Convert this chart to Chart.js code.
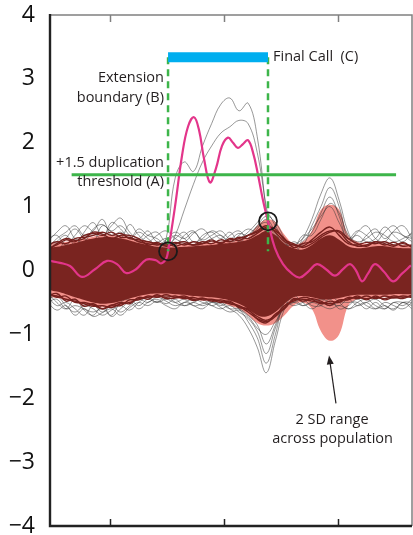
<!DOCTYPE html>
<html>
<head>
<meta charset="utf-8">
<script src="https://cdn.jsdelivr.net/npm/chart.js@4.4.0/dist/chart.umd.min.js"></script>
<style>
    html, body { margin: 0; padding: 0; background: #fff; }
    #wrap { width: 413px; height: 535px; }
</style>
</head>
<body>
<div id="wrap"><canvas id="cnv" width="413" height="535"></canvas></div>
<script>
//横轴采样位置（人群曲线共用）
var gridX = [45, 53, 61, 69, 77, 85, 93, 101, 109, 117, 125, 133, 141, 149, 157, 165, 173, 181, 189, 197,
    205, 213, 221, 229, 237, 245, 253, 261, 269, 277, 285, 293, 301, 309, 317, 325, 333, 341, 349, 357, 365];

//2 SD 范围上下界
var sdUpper = [0.42, 0.43, 0.45, 0.47, 0.5, 0.53, 0.55, 0.55, 0.54, 0.52, 0.49, 0.46, 0.43, 0.41, 0.41, 0.41, 0.42, 0.43, 0.44, 0.45,
    0.46, 0.49, 0.52, 0.7, 0.8, 0.76, 0.56, 0.42, 0.45, 0.62, 0.95, 1.03, 0.95, 0.55, 0.45, 0.42, 0.42, 0.41, 0.4, 0.4, 0.4];
var sdLower = [-0.42, -0.43, -0.46, -0.5, -0.53, -0.56, -0.58, -0.57, -0.55, -0.5, -0.46, -0.43, -0.42, -0.42, -0.43, -0.45, -0.46, -0.47, -0.48, -0.5,
    -0.55, -0.6, -0.7, -0.82, -0.86, -0.82, -0.7, -0.55, -0.5, -0.6, -0.95, -1.1, -1.0, -0.55, -0.45, -0.44, -0.43, -0.42, -0.42, -0.42, -0.42];

//人群曲线密集区
var coreUpper = [0.35, 0.37, 0.4, 0.43, 0.47, 0.5, 0.52, 0.52, 0.5, 0.47, 0.43, 0.4, 0.37, 0.36, 0.36, 0.37, 0.38, 0.39, 0.4, 0.42,
    0.43, 0.45, 0.48, 0.55, 0.62, 0.55, 0.42, 0.35, 0.33, 0.4, 0.5, 0.55, 0.48, 0.38, 0.35, 0.36, 0.38, 0.38, 0.36, 0.35, 0.35];
var coreLower = [-0.3, -0.33, -0.37, -0.42, -0.46, -0.5, -0.52, -0.51, -0.48, -0.44, -0.4, -0.37, -0.36, -0.36, -0.37, -0.38, -0.4, -0.41, -0.42, -0.44,
    -0.47, -0.52, -0.6, -0.7, -0.72, -0.65, -0.52, -0.42, -0.4, -0.42, -0.45, -0.45, -0.43, -0.4, -0.38, -0.38, -0.38, -0.38, -0.37, -0.37, -0.37];

//密集区边缘的曲线
var redTraces = [
    [0.4, 0.45, 0.42, 0.5, 0.52, 0.55, 0.6, 0.55, 0.58, 0.5, 0.48, 0.45, 0.42, 0.4, 0.44, 0.4, 0.45, 0.42, 0.46, 0.44,
        0.48, 0.5, 0.55, 0.62, 0.7, 0.6, 0.45, 0.4, 0.38, 0.48, 0.6, 0.68, 0.55, 0.42, 0.4, 0.44, 0.42, 0.45, 0.4, 0.42, 0.38],
    [0.35, 0.4, 0.48, 0.45, 0.55, 0.58, 0.55, 0.6, 0.52, 0.52, 0.45, 0.42, 0.4, 0.42, 0.38, 0.42, 0.4, 0.45, 0.42, 0.48,
        0.45, 0.52, 0.5, 0.58, 0.66, 0.62, 0.5, 0.36, 0.42, 0.45, 0.55, 0.62, 0.6, 0.45, 0.38, 0.4, 0.45, 0.4, 0.44, 0.38, 0.4],
    [0.3, 0.42, 0.5, 0.47, 0.5, 0.6, 0.57, 0.5, 0.55, 0.55, 0.5, 0.4, 0.44, 0.38, 0.42, 0.45, 0.4, 0.42, 0.48, 0.42,
        0.5, 0.47, 0.55, 0.6, 0.68, 0.65, 0.48, 0.42, 0.36, 0.42, 0.52, 0.6, 0.62, 0.5, 0.42, 0.38, 0.45, 0.42, 0.38, 0.44, 0.36],
    [-0.38, -0.4, -0.45, -0.48, -0.52, -0.56, -0.55, -0.58, -0.52, -0.5, -0.44, -0.42, -0.4, -0.42, -0.4, -0.44, -0.42, -0.46, -0.45, -0.48,
        -0.52, -0.56, -0.65, -0.75, -0.8, -0.72, -0.58, -0.46, -0.45, -0.48, -0.5, -0.52, -0.48, -0.44, -0.42, -0.44, -0.42, -0.44, -0.4, -0.42, -0.4],
    [-0.34, -0.42, -0.4, -0.5, -0.5, -0.54, -0.6, -0.54, -0.55, -0.46, -0.46, -0.4, -0.42, -0.38, -0.42, -0.4, -0.45, -0.43, -0.48, -0.46,
        -0.5, -0.55, -0.62, -0.72, -0.78, -0.7, -0.55, -0.48, -0.42, -0.45, -0.52, -0.48, -0.5, -0.42, -0.44, -0.4, -0.44, -0.4, -0.43, -0.4, -0.42],
    [-0.4, -0.36, -0.48, -0.45, -0.56, -0.52, -0.6, -0.55, -0.5, -0.52, -0.42, -0.45, -0.38, -0.44, -0.43, -0.42, -0.47, -0.44, -0.46, -0.5,
        -0.48, -0.58, -0.6, -0.76, -0.82, -0.68, -0.6, -0.44, -0.48, -0.44, -0.48, -0.55, -0.46, -0.46, -0.4, -0.46, -0.4, -0.46, -0.42, -0.44, -0.38]
];

//偏离人群的灰色曲线
var grayTraces = [
    [0.3, 0.45, 0.55, 0.4, 0.6, 0.75, 0.55, 0.7, 0.82, 0.6, 0.5, 0.62, 0.45, 0.5, 0.4, 0.55, 0.62, 0.45, 0.5, 0.55,
        0.45, 0.5, 0.6, 0.75, 0.9, 0.7, 0.45, 0.3, 0.5, 0.8, 1.2, 1.45, 1.1, 0.6, 0.4, 0.55, 0.65, 0.5, 0.6, 0.55, 0.45],
    [0.4, 0.3, 0.5, 0.65, 0.5, 0.45, 0.7, 0.6, 0.5, 0.72, 0.55, 0.45, 0.55, 0.62, 0.5, 0.45, 0.58, 0.65, 0.5, 0.42,
        0.55, 0.62, 0.5, 0.65, 0.8, 0.6, 0.35, 0.45, 0.4, 0.7, 1.0, 1.3, 1.0, 0.5, 0.55, 0.45, 0.5, 0.68, 0.55, 0.45, 0.6],
    [0.5, 0.55, 0.4, 0.55, 0.7, 0.6, 0.5, 0.75, 0.65, 0.5, 0.6, 0.5, 0.4, 0.48, 0.6, 0.5, 0.4, 0.55, 0.6, 0.5,
        0.6, 0.45, 0.55, 0.7, 0.85, 0.75, 0.5, 0.25, 0.45, 0.6, 0.9, 1.15, 0.85, 0.45, 0.6, 0.7, 0.5, 0.45, 0.62, 0.7, 0.5],
    [0.35, 0.5, 0.6, 0.7, 0.55, 0.62, 0.8, 0.55, 0.6, 0.5, 0.65, 0.55, 0.5, 0.4, 0.5, 0.6, 0.45, 0.5, 0.62, 0.55,
        0.45, 0.55, 0.65, 0.6, 0.7, 0.55, 0.4, 0.35, 0.55, 0.55, 0.8, 1.05, 0.9, 0.55, 0.45, 0.5, 0.6, 0.55, 0.45, 0.5, 0.58],
    [0.45, 0.6, 0.7, 0.5, 0.45, 0.65, 0.72, 0.62, 0.7, 0.55, 0.45, 0.55, 0.6, 0.45, 0.55, 0.5, 0.6, 0.48, 0.55, 0.62,
        0.5, 0.58, 0.55, 0.68, 0.75, 0.58, 0.42, 0.4, 0.5, 0.65, 0.85, 1.0, 0.75, 0.5, 0.62, 0.55, 0.45, 0.6, 0.7, 0.55, 0.5],
    [-0.35, -0.5, -0.6, -0.45, -0.62, -0.7, -0.55, -0.72, -0.6, -0.5, -0.6, -0.5, -0.45, -0.52, -0.45, -0.55, -0.5, -0.45, -0.55, -0.5,
        -0.6, -0.7, -0.9, -1.2, -1.6, -1.1, -0.6, -0.4, -0.5, -0.6, -0.5, -0.4, -0.5, -0.6, -0.5, -0.45, -0.55, -0.6, -0.5, -0.55, -0.45],
    [-0.45, -0.4, -0.55, -0.65, -0.55, -0.6, -0.7, -0.62, -0.55, -0.62, -0.5, -0.42, -0.5, -0.45, -0.5, -0.45, -0.55, -0.52, -0.48, -0.55,
        -0.5, -0.6, -0.8, -1.05, -1.45, -1.0, -0.5, -0.45, -0.55, -0.5, -0.45, -0.5, -0.55, -0.45, -0.55, -0.5, -0.45, -0.55, -0.6, -0.5, -0.5],
    [-0.4, -0.55, -0.5, -0.6, -0.7, -0.55, -0.65, -0.55, -0.65, -0.55, -0.45, -0.5, -0.42, -0.48, -0.55, -0.5, -0.45, -0.5, -0.55, -0.6,
        -0.55, -0.65, -0.75, -0.95, -1.3, -0.9, -0.55, -0.5, -0.45, -0.55, -0.55, -0.45, -0.6, -0.55, -0.45, -0.55, -0.6, -0.5, -0.55, -0.6, -0.5],
    [-0.5, -0.45, -0.6, -0.55, -0.6, -0.65, -0.6, -0.7, -0.5, -0.45, -0.55, -0.45, -0.5, -0.4, -0.5, -0.55, -0.5, -0.55, -0.5, -0.52,
        -0.6, -0.6, -0.7, -0.85, -1.15, -0.85, -0.5, -0.55, -0.5, -0.45, -0.5, -0.55, -0.5, -0.5, -0.5, -0.6, -0.5, -0.6, -0.5, -0.5, -0.55],
    [-0.5, -0.62, -0.55, -0.7, -0.6, -0.72, -0.66, -0.6, -0.7, -0.58, -0.5, -0.55, -0.48, -0.55, -0.6, -0.5, -0.55, -0.6, -0.5, -0.58,
        -0.65, -0.62, -0.72, -0.9, -1.0, -0.8, -0.6, -0.5, -0.55, -0.5, -0.55, -0.6, -0.55, -0.6, -0.55, -0.5, -0.6, -0.55, -0.62, -0.5, -0.6],
    [0.1, 0.05, 0.15, 0.0, -0.1, 0.1, 0.2, 0.05, -0.05, 0.1, 0.2, 0.15, 0.25, 0.5, 1.45, 1.7, 1.55, 1.95, 2.3, 2.6,
        2.7, 2.5, 2.62, 2.1, 0.9, -0.2, 0.1, 0.2, 0.0, -0.1, 0.1, 0.2, 0.0, -0.1, 0.1, 0.0, -0.1, 0.1, 0.2, 0.0, 0.1],
    [-0.1, 0.0, 0.1, 0.2, 0.1, -0.05, 0.0, 0.15, 0.1, 0.0, -0.1, 0.05, 0.2, 0.3, 0.55, 0.95, 1.35, 1.7, 1.95, 2.15,
        2.25, 2.35, 2.3, 1.85, 1.0, 0.3, 0.0, -0.1, 0.1, 0.2, 0.0, -0.1, 0.1, 0.2, 0.05, -0.1, 0.0, 0.15, 0.1, -0.05, 0.0]
];

//样本曲线
var sampleX = [47, 55.8, 64.6, 75.1, 86.5, 97.1, 105.9, 113.8, 122.6, 131.4, 140.1, 144.5, 148.9, 150.7, 156.8, 163, 168.2, 173.5, 177.9, 182.3,
    187.5, 192.8, 198.1, 203.4, 207.8, 212.1, 216.5, 220.9, 225.3, 229.7, 234.1, 238.5, 244.6, 251.7, 259.6, 266.6, 273.6, 281.5, 289.4, 297.3,
    304.4, 310.5, 315.8, 321.1, 326.3, 332.5, 340.4, 348.3, 356.2, 364.1];
var sampleY = [0.15, 0.12, 0.07, -0.1, 0.02, 0.15, 0.1, -0.04, 0.02, 0.17, 0.16, 0.11, 0.18, 0.3, 1.0, 1.8, 2.25, 2.4, 2.2, 1.75,
    1.38, 1.6, 1.95, 2.08, 2.0, 1.92, 1.98, 2.04, 1.85, 1.5, 1.1, 0.77, 0.35, 0.1, -0.05, -0.11, -0.02, 0.1, 0.02, -0.08,
    0.02, 0.1, 0.0, -0.17, -0.05, 0.1, -0.02, -0.17, -0.05, 0.08];

//阈值、边界、最终判定
var threshold = 1.5;
var thresholdSpan = [66, 351];
var boundaryX = [150.7, 238.5];
var boundaryBottom = 0.3;
var callLevel = 3.34;
var crossY = [0.3, 0.77];
var xTicks = [100, 200, 300];
var yTicks = [-4, -3, -2, -1, 0, 1, 2, 3, 4];

function pts(xs, ys) {
    return xs.map(function(x, i) { return {x: x, y: ys[i]}; });
}

function minusLabel(v) {
    return v < 0 ? '\u2212' + Math.abs(v) : '' + v;
}

var datasets = [];

//交叉点圆圈
datasets.push({
    data: pts(boundaryX, crossY), showLine: false, order: -2,
    pointRadius: 9, pointBorderColor: '#1a1a1a', pointBorderWidth: 1.8, pointBackgroundColor: 'rgba(0,0,0,0)'
});
//最终判定条
datasets.push({
    data: [{x: boundaryX[0], y: callLevel}, {x: boundaryX[1], y: callLevel}], order: -1,
    borderColor: '#00aeef', borderWidth: 10, borderCapStyle: 'butt', pointRadius: 0
});
//扩展边界虚线
boundaryX.forEach(function(bx) {
    datasets.push({
        data: [{x: bx, y: callLevel}, {x: bx, y: boundaryBottom}], order: -1,
        borderColor: '#3db54a', borderWidth: 2.5, borderDash: [7, 5], pointRadius: 0
    });
});
//重复阈值
datasets.push({
    data: [{x: thresholdSpan[0], y: threshold}, {x: thresholdSpan[1], y: threshold}], order: 0,
    borderColor: '#3db54a', borderWidth: 3, pointRadius: 0
});
datasets.push({
    data: pts(sampleX, sampleY), order: 1,
    borderColor: '#e3358a', borderWidth: 2.2, pointRadius: 0, tension: 0.4
});
redTraces.forEach(function(t) {
    datasets.push({data: pts(gridX, t), order: 3, borderColor: '#76211e', borderWidth: 1.4, pointRadius: 0, tension: 0.4});
});
datasets.push({
    data: pts(gridX, coreUpper), order: 4, fill: '+1',
    backgroundColor: '#7a2420', borderWidth: 0, pointRadius: 0, tension: 0.4
});
datasets.push({data: pts(gridX, coreLower), order: 4, borderWidth: 0, pointRadius: 0, tension: 0.4});
grayTraces.forEach(function(t) {
    datasets.push({data: pts(gridX, t), order: 5, borderColor: 'rgba(55,55,55,0.65)', borderWidth: 0.8, pointRadius: 0, tension: 0.4});
});
datasets.push({
    data: pts(gridX, sdUpper), order: 6, fill: '+1',
    backgroundColor: '#f2918a', borderWidth: 0, pointRadius: 0, tension: 0.4
});
datasets.push({data: pts(gridX, sdLower), order: 6, borderWidth: 0, pointRadius: 0, tension: 0.4});

//边框、刻度、文字说明
var notesPlugin = {
    id: 'notes',
    afterDraw: function(chart) {
        var ctx = chart.ctx, sx = chart.scales.x, sy = chart.scales.y, a = chart.chartArea;
        ctx.save();
        ctx.lineWidth = 1.5;
        ctx.strokeStyle = '#808080';
        ctx.beginPath();
        ctx.moveTo(a.left, a.top);
        ctx.lineTo(a.right, a.top);
        ctx.lineTo(a.right, a.bottom);
        ctx.stroke();
        xTicks.forEach(function(t) {
            var px = Math.round(sx.getPixelForValue(t)) + 0.5;
            ctx.beginPath();
            ctx.moveTo(px, a.top);
            ctx.lineTo(px, a.top + 7);
            ctx.stroke();
        });
        ctx.strokeStyle = '#222';
        ctx.lineWidth = 1.5;
        xTicks.forEach(function(t) {
            var px = Math.round(sx.getPixelForValue(t)) + 0.5;
            ctx.beginPath();
            ctx.moveTo(px, a.bottom);
            ctx.lineTo(px, a.bottom - 7);
            ctx.stroke();
        });
        ctx.lineWidth = 2.4;
        ctx.beginPath();
        ctx.moveTo(a.left, a.top - 1);
        ctx.lineTo(a.left, a.bottom);
        ctx.lineTo(a.right, a.bottom);
        ctx.stroke();

        ctx.fillStyle = '#231f20';
        ctx.font = '14.5px "Open Sans"';
        ctx.textBaseline = 'middle';
        ctx.textAlign = 'right';
        var rx = sx.getPixelForValue(147.1);
        ctx.fillText('Extension', rx, sy.getPixelForValue(3.01));
        ctx.fillText('boundary (B)', rx, sy.getPixelForValue(2.71));
        ctx.fillText('+1.5 duplication', rx, sy.getPixelForValue(1.69));
        ctx.fillText('threshold (A)', rx, sy.getPixelForValue(1.39));
        ctx.textAlign = 'left';
        ctx.fillText('Final Call  (C)', sx.getPixelForValue(242.9), sy.getPixelForValue(3.35));
        ctx.textAlign = 'center';
        ctx.fillText('2 SD range', sx.getPixelForValue(294.7), sy.getPixelForValue(-2.34));
        ctx.fillText('across population', sx.getPixelForValue(295.2), sy.getPixelForValue(-2.63));

        //箭头
        var x0 = sx.getPixelForValue(298.2), y0 = sy.getPixelForValue(-2.08);
        var x1 = sx.getPixelForValue(292.1), y1 = sy.getPixelForValue(-1.33);
        var ang = Math.atan2(y1 - y0, x1 - x0);
        ctx.strokeStyle = '#231f20';
        ctx.lineWidth = 1.2;
        ctx.beginPath();
        ctx.moveTo(x0, y0);
        ctx.lineTo(x1 - 6 * Math.cos(ang), y1 - 6 * Math.sin(ang));
        ctx.stroke();
        ctx.beginPath();
        ctx.moveTo(x1, y1);
        ctx.lineTo(x1 - 9 * Math.cos(ang) + 3.5 * Math.sin(ang), y1 - 9 * Math.sin(ang) - 3.5 * Math.cos(ang));
        ctx.lineTo(x1 - 9 * Math.cos(ang) - 3.5 * Math.sin(ang), y1 - 9 * Math.sin(ang) + 3.5 * Math.cos(ang));
        ctx.closePath();
        ctx.fill();
        ctx.restore();
    }
};

new Chart(document.getElementById('cnv'), {
    type: 'line',
    data: {datasets: datasets},
    plugins: [notesPlugin],
    options: {
        responsive: false,
        animation: false,
        events: [],
        layout: {autoPadding: false, padding: {top: 15, bottom: 9, right: 1, left: 0}},
        plugins: {legend: {display: false}, tooltip: {enabled: false}},
        scales: {
            x: {type: 'linear', display: false, min: 47, max: 365},
            y: {
                min: -4, max: 4,
                afterBuildTicks: function(s) { s.ticks = yTicks.map(function(v) { return {value: v}; }); },
                afterFit: function(s) { s.width = 50; s.paddingTop = 0; s.paddingBottom = 0; },
                grid: {display: false},
                border: {display: false},
                ticks: {
                    color: '#111', padding: 7,
                    font: {size: 23, family: '"Open Sans"'},
                    callback: minusLabel
                }
            }
        }
    }
});
</script>
</body>
</html>
